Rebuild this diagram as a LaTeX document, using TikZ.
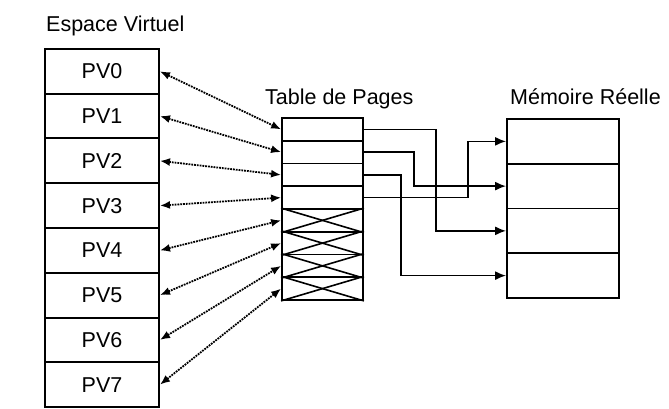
\documentclass[tikz,border=0pt]{standalone}
\usepackage{fontspec}
\setmainfont{Liberation Sans}
\usetikzlibrary{arrows.meta}
\begin{document}
\begin{tikzpicture}[x=1pt,y=-1pt,
  pvcell/.style={draw,line width=2pt,minimum width=114pt,minimum height=44.75pt,inner sep=0pt,font=\fontsize{21.5}{24}\selectfont},
  tcell/.style={draw,line width=1.8pt,minimum width=81pt,minimum height=22.75pt,inner sep=0pt},
  mcell/.style={draw,line width=1.8pt,minimum width=112pt,minimum height=44.75pt,inner sep=0pt},
  title/.style={anchor=base west,inner sep=0pt,font=\fontsize{21.5}{24}\selectfont},
  map/.style={densely dotted,line width=1.8pt,{Latex[length=10pt,width=8pt]}-{Latex[length=10pt,width=8pt]}},
  link/.style={line width=1.7pt,-{Latex[length=11pt,width=9pt]}}]
\useasboundingbox[fill=white] (0,0) rectangle (669,409);
\node[title] (ev) at (46,32) {Espace Virtuel};
\node[title] (tp) at (265,105) {Table de Pages};
\node[title] (mr) at (510,105) {Mémoire Réelle};
\foreach \i in {0,...,7}{
  \node[pvcell] (pv\i) at (102,{49+22.375+44.75*\i}) {PV\i};
  \node[tcell] (t\i) at (322.5,{118+11.375+22.75*\i}) {};
}
\foreach \i in {4,...,7}{
  \draw[line width=1.6pt] (t\i.north west) -- (t\i.south east);
  \draw[line width=1.6pt] (t\i.south west) -- (t\i.north east);
}
\foreach \j in {0,...,3}{
  \node[mcell] (m\j) at (563,{119+22.375+44.75*\j}) {};
}
\foreach \i in {0,...,7}{
  \draw[map] (pv\i.east) -- (t\i.west);
}
\draw[link] (t0.east) -- ++(72,0) |- (m2.west);
\draw[link] (t1.east) -- ++(50,0) |- (m1.west);
\draw[link] (t2.east) -- ++(37,0) |- (m3.west);
\draw[link] (t3.east) -- ++(104,0) |- (m0.west);
\end{tikzpicture}
\end{document}
